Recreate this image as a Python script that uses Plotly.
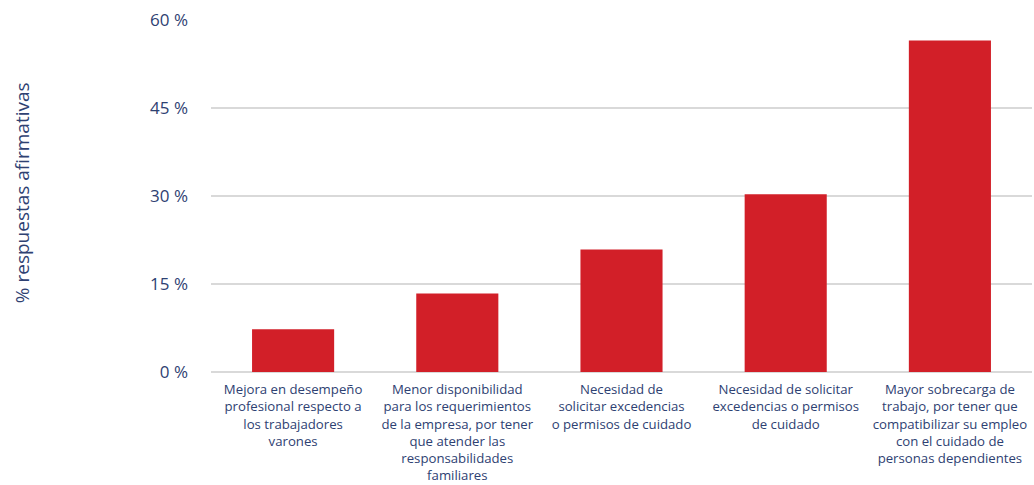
import plotly.graph_objects as go

# Survey categories (x axis labels, line-broken as displayed)
categories = [
    "Mejora en desempeño<br>profesional respecto a<br>los trabajadores<br>varones",
    "Menor disponibilidad<br>para los requerimientos<br>de la empresa, por tener<br>que atender las<br>responsabilidades<br>familiares",
    "Necesidad de<br>solicitar excedencias<br>o permisos de cuidado",
    "Necesidad de solicitar<br>excedencias o permisos<br>de cuidado",
    "Mayor sobrecarga de<br>trabajo, por tener que<br>compatibilizar su empleo<br>con el cuidado de<br>personas dependientes",
]

# Share of affirmative answers (%)
values = [7.3, 13.4, 20.9, 30.3, 56.5]

# Y axis ticks and their labels
y_ticks = [0, 15, 30, 45, 60]
y_tick_labels = ["0 %", "15 %", "30 %", "45 %", "60 %"]

y_title = "% respuestas afirmativas"

TEXT = "#2E4172"
BAR = "#D21F28"
GRID = "#D9D9D9"
FONT = "Open Sans"

W, H = 1034, 485
ML, MR, MT, MB = 211, 2, 20, 113

fig = go.Figure(
    go.Bar(
        x=categories,
        y=values,
        marker=dict(color=BAR, line=dict(width=0)),
        width=0.5,
    )
)

fig.update_layout(
    width=W,
    height=H,
    margin=dict(l=ML, r=MR, t=MT, b=MB, autoexpand=False),
    paper_bgcolor="white",
    plot_bgcolor="white",
    showlegend=False,
    font=dict(family=FONT, color=TEXT),
)

fig.update_xaxes(
    tickfont=dict(size=13.2, color=TEXT, family=FONT),
    showgrid=False,
    showline=False,
    ticks="",
    tickangle=0,
    ticklabelstandoff=8,
    automargin=False,
)

fig.update_yaxes(
    range=[0, 60],
    tickvals=y_ticks,
    ticktext=y_tick_labels,
    tickfont=dict(size=17, color=TEXT, family=FONT),
    showgrid=True,
    gridcolor=GRID,
    gridwidth=2,
    zeroline=True,
    zerolinecolor=GRID,
    zerolinewidth=2,
    ticks="",
    ticklabelstandoff=22,
    automargin=False,
)

# Rotated axis title placed at the far left of the page
plot_w = W - ML - MR
fig.add_annotation(
    text=y_title,
    xref="paper",
    yref="paper",
    x=(22 - ML) / plot_w,
    y=0.508,
    xanchor="center",
    yanchor="middle",
    textangle=-90,
    showarrow=False,
    font=dict(size=19, color=TEXT, family=FONT),
)

fig.write_html("out.html")
